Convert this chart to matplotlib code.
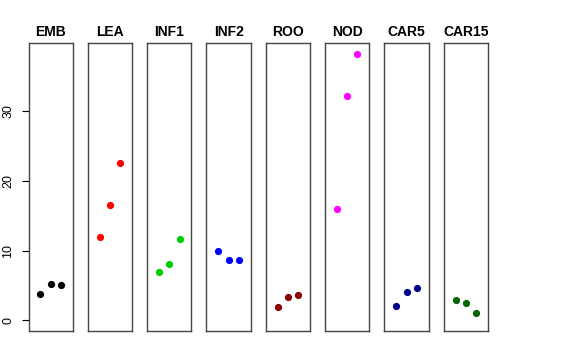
import matplotlib
matplotlib.use("Agg")
import matplotlib.pyplot as plt

plt.rcParams["font.family"] = ["Liberation Sans", "DejaVu Sans"]

tissues = ["EMB", "LEA", "INF1", "INF2", "ROO", "NOD", "CAR5", "CAR15"]
colors = ["black", "red", "#00CD00", "blue", "#8B0000", "magenta", "#00008B", "#006400"]
values = [
    [3.8, 5.2, 5.0],
    [12.0, 16.5, 22.6],
    [6.9, 8.0, 11.7],
    [9.9, 8.6, 8.6],
    [1.9, 3.3, 3.6],
    [16.0, 32.2, 38.2],
    [2.0, 4.0, 4.6],
    [2.9, 2.5, 1.0],
]
reps = [1, 2, 3]

ymax = max(max(v) for v in values)
pad = 0.04 * ymax

fig, axes = plt.subplots(1, 8, figsize=(5.76, 3.6), dpi=100, sharey=True)
fig.subplots_adjust(left=28.5 / 576, right=488 / 576, bottom=29 / 360,
                    top=317 / 360, wspace=0.337)

for i, ax in enumerate(axes):
    ax.plot(reps, values[i], "o", color=colors[i], markersize=5.2, markeredgewidth=0)
    ax.set_xlim(-0.16, 4.16)
    ax.set_ylim(-pad, ymax + pad)
    ax.set_xticks([])
    ax.set_title(tissues[i], fontsize=10, fontweight="bold", pad=5)
    for s in ax.spines.values():
        s.set_color("#444444")
        s.set_linewidth(1.0)
    if i == 0:
        ax.set_yticks([0, 10, 20, 30])
        ax.tick_params(axis="y", length=5.2, width=0.8, labelsize=9, pad=5)
        for lab in ax.get_yticklabels():
            lab.set_rotation(90)
            lab.set_va("center")
    else:
        ax.tick_params(axis="y", left=False, labelleft=False)

fig.savefig("out.png", dpi=100)
